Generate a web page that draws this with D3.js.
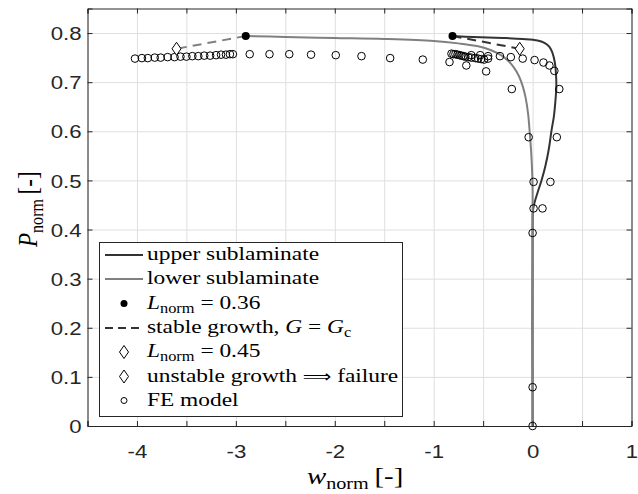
<!DOCTYPE html>
<html>
<head>
<meta charset="utf-8">
<script src="https://cdn.jsdelivr.net/npm/d3@7"></script>
<style>
  body { margin: 0; background: #fff; }
</style>
</head>
<body>
<div id="chart"></div>
<script>
// ---- data ----
var upperW = [-0.81, -0.6, -0.3, -0.1, 0.05, 0.12, 0.17, 0.20, 0.225, 0.237, 0.24, 0.23, 0.215, 0.19, 0.165, 0.13, 0.09, 0.05, 0.02, 0.004, 0, 0];
var upperP = [0.794, 0.792, 0.790, 0.788, 0.785, 0.780, 0.772, 0.760, 0.740, 0.715, 0.69, 0.66, 0.63, 0.60, 0.565, 0.53, 0.50, 0.475, 0.455, 0.44, 0.42, 0];

var lowerW = [-2.9, -2.5, -2, -1.5, -1, -0.75, -0.55, -0.42, -0.32, -0.25, -0.19, -0.14, -0.1, -0.07, -0.045, -0.03, -0.015, -0.005, 0, 0];
var lowerP = [0.794, 0.792, 0.790, 0.788, 0.784, 0.779, 0.773, 0.765, 0.755, 0.744, 0.73, 0.713, 0.692, 0.668, 0.635, 0.60, 0.56, 0.52, 0.48, 0];

// onset of growth (L_norm = 0.36) and failure points (L_norm = 0.45)
var onsetW = [-0.81, -2.9];
var onsetP = [0.794, 0.794];
var failW = [-0.13, -3.6];
var failP = [0.768, 0.768];

// FE model
var feW = [-4.02, -3.95, -3.89, -3.82, -3.76, -3.69, -3.62, -3.56, -3.50, -3.44, -3.38, -3.32, -3.26, -3.20, -3.15, -3.10, -3.06, -3.03,
  -2.86, -2.66, -2.46, -2.24, -1.99, -1.73, -1.44, -1.11, -0.84,
  -0.82, -0.80, -0.78, -0.76, -0.74, -0.72, -0.70, -0.68, -0.65, -0.62, -0.58, -0.55, -0.52, -0.49, -0.45,
  -0.62, -0.53, -0.45, -0.67, -0.47,
  -0.33, -0.22, -0.21, -0.10, 0.02, 0.11, 0.17, 0.22, 0.27,
  -0.04, 0.245, 0.01, 0.18, 0.01, 0.10, 0, 0, 0];
var feP = [0.748, 0.749, 0.749, 0.750, 0.750, 0.751, 0.751, 0.752, 0.752, 0.753, 0.753, 0.754, 0.754, 0.755, 0.756, 0.756, 0.757, 0.757,
  0.757, 0.757, 0.757, 0.756, 0.755, 0.753, 0.749, 0.746, 0.741,
  0.758, 0.757, 0.757, 0.756, 0.755, 0.754, 0.753, 0.752, 0.751, 0.750, 0.749, 0.748, 0.747, 0.746, 0.748,
  0.755, 0.755, 0.753, 0.734, 0.722,
  0.753, 0.751, 0.686, 0.748, 0.745, 0.740, 0.734, 0.723, 0.686,
  0.588, 0.588, 0.497, 0.497, 0.443, 0.443, 0.393, 0.079, 0];

var xTicks = [-4.5, -4, -3.5, -3, -2.5, -2, -1.5, -1, -0.5, 0, 0.5, 1];
var xLabels = [-4, -3, -2, -1, 0, 1];
var yTicks = [0, 0.1, 0.2, 0.3, 0.4, 0.5, 0.6, 0.7, 0.8];

var svgWidth = 638;
var svgHeight = 494;
var margin = {top: 8.5, right: 6.5, bottom: 68, left: 87.5};
var width = svgWidth - margin.left - margin.right;
var height = svgHeight - margin.top - margin.bottom;
var sx = 1.2; // the picture is stretched sideways

var axisColor = "#262626";
var darkLine = "#333333";
var greyLine = "#808080";
var gridColor = "#dfdfdf";

var svg = d3.select("#chart").append("svg")
  .attr("width", svgWidth)
  .attr("height", svgHeight);

var chartGroup = svg.append("g")
  .attr("transform", `translate(${margin.left}, ${margin.top})`);

var xScale = d3.scaleLinear().domain([-4.5, 1]).range([0, width]);
var yScale = d3.scaleLinear().domain([0, 0.85]).range([height, 0]);

// grid
var gridGroup = chartGroup.append("g");
gridGroup.append("g")
  .attr("transform", `translate(0, ${height})`)
  .call(d3.axisBottom(xScale).tickValues(xTicks).tickSize(-height).tickFormat(""));
gridGroup.append("g")
  .call(d3.axisLeft(yScale).tickValues(yTicks).tickSize(-width).tickFormat(""));
gridGroup.selectAll(".domain").remove();
gridGroup.selectAll("line").attr("stroke", gridColor);

// curves
var line = d3.line()
  .x(d => xScale(d[0]))
  .y(d => yScale(d[1]))
  .curve(d3.curveCatmullRom.alpha(0.5));

var upperData = upperW.map((w, i) => [w, upperP[i]]);
var lowerData = lowerW.map((w, i) => [w, lowerP[i]]);

chartGroup.append("path").datum(upperData)
  .attr("d", line).attr("fill", "none")
  .attr("stroke", darkLine).attr("stroke-width", 2);
chartGroup.append("path").datum(lowerData)
  .attr("d", line).attr("fill", "none")
  .attr("stroke", greyLine).attr("stroke-width", 2);

// dashed growth lines
var dashColors = [darkLine, greyLine];
onsetW.forEach(function(w, i) {
  chartGroup.append("path")
    .datum([[w, onsetP[i]], [failW[i], failP[i]]])
    .attr("d", d3.line().x(d => xScale(d[0])).y(d => yScale(d[1])))
    .attr("fill", "none")
    .attr("stroke", dashColors[i])
    .attr("stroke-width", 2)
    .attr("stroke-dasharray", "9,6");
});

// FE circles
chartGroup.selectAll(".fe")
  .data(feW.map((w, i) => [w, feP[i]]))
  .enter().append("circle")
  .attr("class", "fe")
  .attr("cx", d => xScale(d[0]))
  .attr("cy", d => yScale(d[1]))
  .attr("r", 3.8)
  .attr("fill", "none")
  .attr("stroke", "#000")
  .attr("stroke-width", 1);

// onset dots
chartGroup.selectAll(".onset")
  .data(onsetW.map((w, i) => [w, onsetP[i]]))
  .enter().append("circle")
  .attr("cx", d => xScale(d[0]))
  .attr("cy", d => yScale(d[1]))
  .attr("r", 4)
  .attr("fill", "#000");

// diamonds
function diamond(hw, hh) {
  return `M0,${-hh}L${hw},0L0,${hh}L${-hw},0Z`;
}
chartGroup.selectAll(".fail")
  .data(failW.map((w, i) => [w, failP[i]]))
  .enter().append("path")
  .attr("d", diamond(4.5, 6.5))
  .attr("transform", d => `translate(${xScale(d[0])}, ${yScale(d[1])})`)
  .attr("fill", "#fff")
  .attr("stroke", "#000")
  .attr("stroke-width", 1);

// axes box with inward ticks
var axesGroup = chartGroup.append("g");
var bottomAxis = d3.axisBottom(xScale).tickValues(xTicks).tickSize(-5)
  .tickFormat(d => xLabels.indexOf(d) >= 0 ? String(d) : "");
var leftAxis = d3.axisLeft(yScale).tickValues(yTicks).tickSize(-5)
  .tickFormat(d => String(d));

var xAxis = axesGroup.append("g")
  .attr("transform", `translate(0, ${height})`)
  .call(bottomAxis);
xAxis.selectAll("text")
  .attr("y", 19).attr("dy", "0.71em")
  .attr("transform", `scale(${sx},1)`);

var yAxis = axesGroup.append("g").call(leftAxis);
yAxis.selectAll("text")
  .attr("x", -6 / sx).attr("dy", "0.36em")
  .attr("transform", `scale(${sx},1)`);

axesGroup.append("g")
  .call(d3.axisTop(xScale).tickValues(xTicks).tickSize(-5).tickFormat(""));
axesGroup.append("g")
  .attr("transform", `translate(${width}, 0)`)
  .call(d3.axisRight(yScale).tickValues(yTicks).tickSize(-5).tickFormat(""));

axesGroup.selectAll(".domain, .tick line")
  .attr("stroke", axisColor).attr("stroke-width", 1);
axesGroup.selectAll(".tick text")
  .attr("fill", axisColor)
  .style("font-family", "'Liberation Sans', Arial, sans-serif")
  .style("font-size", "18.5px");

// ---- math-like text helper ----
var serif = "'Liberation Serif', 'Times New Roman', serif";
function mathText(parent, x, y, parts, size, rotate) {
  var t = parent.append("text")
    .attr("transform", `translate(${x},${y}) scale(${sx},1)` + (rotate ? " rotate(-90)" : ""))
    .style("font-family", serif)
    .style("font-size", size + "px")
    .attr("fill", "#000");
  parts.forEach(function(p) {
    var s = t.append("tspan").text(p[0]);
    if (p[1] === "i") s.style("font-style", "italic");
    if (p[1] === "sub") {
      s.style("font-size", (size * 0.7) + "px").attr("dy", size * 0.22);
    }
    if (p[1] === "up") {
      s.attr("dy", -size * 0.22);
    }
    if (p[1] === "arrow") {
      s.style("font-family", "'DejaVu Sans', sans-serif").style("font-size", (size * 0.85) + "px");
    }
  });
  return t;
}

// axis labels
mathText(svg, 307, 484, [["w", "i"], ["norm", "sub"], ["\u2009[-]", "up"]], 24, false);
mathText(svg, 37, 247, [["P", "i"], ["norm", "sub"], ["\u2009[-]", "up"]], 23, true);

// ---- legend ----
var legend = svg.append("g");
legend.append("rect")
  .attr("x", 99.5).attr("y", 242.5)
  .attr("width", 303).attr("height", 174)
  .attr("fill", "#fff").attr("stroke", axisColor).attr("stroke-width", 1);

var rowY = [255, 279, 303.5, 328, 352, 376.5, 400.5];
var textX = 147;
var fs = 19.5;

legend.append("line").attr("x1", 105).attr("x2", 143).attr("y1", rowY[0]).attr("y2", rowY[0])
  .attr("stroke", darkLine).attr("stroke-width", 2);
mathText(legend, textX, rowY[0] + 5, [["upper sublaminate", "n"]], fs);

legend.append("line").attr("x1", 105).attr("x2", 143).attr("y1", rowY[1]).attr("y2", rowY[1])
  .attr("stroke", greyLine).attr("stroke-width", 2);
mathText(legend, textX, rowY[1] + 5, [["lower sublaminate", "n"]], fs);

legend.append("circle").attr("cx", 124).attr("cy", rowY[2]).attr("r", 3.5).attr("fill", "#000");
mathText(legend, textX, rowY[2] + 5, [["L", "i"], ["norm", "sub"], [" = 0.36", "up"]], fs);

legend.append("line").attr("x1", 105).attr("x2", 143).attr("y1", rowY[3]).attr("y2", rowY[3])
  .attr("stroke", darkLine).attr("stroke-width", 2).attr("stroke-dasharray", "8,5");
mathText(legend, textX, rowY[3] + 5, [["stable growth, ", "n"], ["G", "i"], [" = ", "n"], ["G", "i"], ["c", "sub"]], fs);

legend.append("path").attr("d", diamond(4.5, 6.5))
  .attr("transform", `translate(124, ${rowY[4]})`)
  .attr("fill", "#fff").attr("stroke", "#000");
mathText(legend, textX, rowY[4] + 5, [["L", "i"], ["norm", "sub"], [" = 0.45", "up"]], fs);

legend.append("path").attr("d", diamond(4.5, 6.5))
  .attr("transform", `translate(124, ${rowY[5]})`)
  .attr("fill", "#fff").attr("stroke", "#000");
mathText(legend, textX, rowY[5] + 5, [["unstable growth ", "n"], ["\u27F9", "arrow"], [" failure", "n"]], fs);

legend.append("circle").attr("cx", 124).attr("cy", rowY[6]).attr("r", 3).attr("fill", "none").attr("stroke", "#000");
mathText(legend, textX, rowY[6] + 5, [["FE model", "n"]], fs);
</script>
</body>
</html>
